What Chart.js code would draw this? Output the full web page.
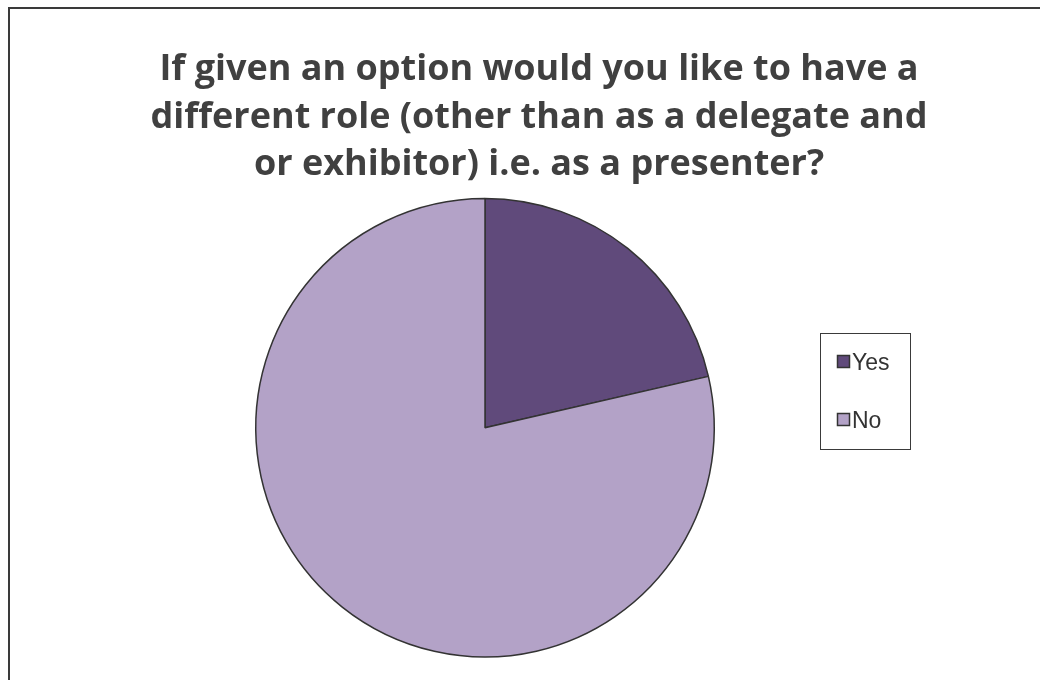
<!DOCTYPE html>
<html>
<head>
<meta charset="utf-8">
<script src="https://cdn.jsdelivr.net/npm/chart.js@4/dist/chart.umd.min.js"></script>
<style>
	body { margin: 0; background: #fff; }
	#wrap { position: relative; width: 1040px; height: 680px; overflow: hidden; }
	#frame { position: absolute; left: 8px; top: 7px; width: 1100px; height: 700px; border-left: 2px solid #3a3a3a; border-top: 2px solid #3a3a3a; }
	canvas { position: absolute; left: 0; top: 0; }
</style>
</head>
<body>
<div id="wrap">
	<div id="frame"></div>
	<canvas id="chart" width="1040" height="680"></canvas>
</div>
<script>
// data
const titleLines = [
	'If given an option would you like to have a',
	'different role (other than as a delegate and',
	'or exhibitor) i.e. as a presenter?',
]
const categories = ['Yes', 'No']
const responses = [21.4, 78.6]
const sliceColors = ['#604a7b', '#b3a2c7']

// pie sits left of the title centre, so narrow the plot area after layout
const pieArea = {
	id: 'pieArea',
	afterLayout(chart) {
		chart.chartArea.left = 255
		chart.chartArea.right = 715
		chart.chartArea.width = 460
	},
}

// legend drawn by hand, boxed like the office one
const boxedLegend = {
	id: 'boxedLegend',
	afterDraw(chart) {
		const ctx = chart.ctx
		const ds = chart.data.datasets[0]
		ctx.save()
		ctx.strokeStyle = '#3a3a3a'
		ctx.lineWidth = 1
		ctx.strokeRect(820.5, 333.5, 90, 116)
		ctx.font = '23px "Liberation Sans", Arial, sans-serif'
		ctx.textBaseline = 'alphabetic'
		chart.data.labels.forEach((label, i) => {
			const cy = 362 + i * 58
			ctx.fillStyle = ds.backgroundColor[i]
			ctx.fillRect(837.5, cy - 6.5, 12, 12)
			ctx.strokeStyle = '#333333'
			ctx.lineWidth = 1.5
			ctx.strokeRect(837.5, cy - 6.5, 12, 12)
			ctx.fillStyle = '#333333'
			ctx.fillText(label, 852, cy + 7.5)
		})
		ctx.restore()
	},
}

const ctx = document.getElementById('chart').getContext('2d')
new Chart(ctx, {
	type: 'pie',
	data: {
		labels: categories,
		datasets: [{
			data: responses,
			backgroundColor: sliceColors,
			borderColor: '#333333',
			borderWidth: 1.5,
		}],
	},
	options: {
		responsive: false,
		animation: false,
		layout: {
			padding: { left: 38, right: 0, bottom: 22, top: 0 },
		},
		plugins: {
			title: {
				display: true,
				text: titleLines,
				color: '#404040',
				font: { family: 'Open Sans', size: 36, weight: 'bold', lineHeight: 1.32 },
				padding: { top: 46, bottom: 9 },
			},
			legend: { display: false },
			tooltip: { enabled: false },
		},
	},
	plugins: [pieArea, boxedLegend],
})
</script>
</body>
</html>
